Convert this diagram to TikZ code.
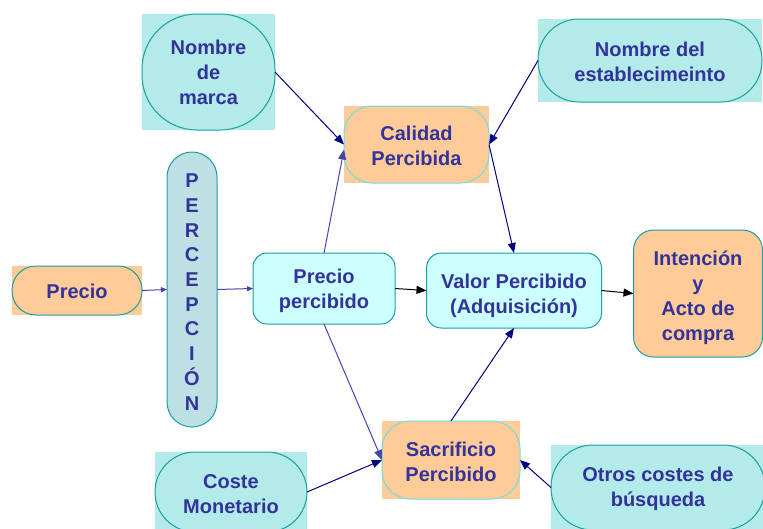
\documentclass[tikz,border=0pt]{standalone}
\usepackage{fontspec}
\setmainfont{Liberation Sans}
\usetikzlibrary{arrows.meta,backgrounds}
\definecolor{txt}{HTML}{333399}
\definecolor{cyanbg}{HTML}{B2EBE9}
\definecolor{orng}{HTML}{FFCC99}
\definecolor{tealb}{HTML}{1A9E9E}
\definecolor{lcyan}{HTML}{6EDCE0}
\definecolor{pale}{HTML}{CCFFFF}
\definecolor{percf}{HTML}{BCE0E3}
\definecolor{navy}{HTML}{000080}
\definecolor{lnavy}{HTML}{4444AA}
\def\tshiftval{0pt}
\newcommand\dn[1]{\raisebox{-\tshiftval}[\height][\depth]{#1}}
\tikzset{
  tsh/.code={\def\tshiftval{#1}},
  box/.style={draw=tealb, line width=1pt, inner sep=0pt, outer sep=0pt, align=center,
    text=txt, font=\fontsize{20}{25}\selectfont\bfseries},
  arr/.style={-{Triangle[length=10pt,width=8pt]}, line width=1pt, navy},
  larr/.style={-{Triangle[length=10pt,width=8pt]}, line width=1pt, lnavy},
  sarr/.style={-{Triangle[length=6pt,width=5pt]}, line width=1pt, lnavy},
  barr/.style={-{Triangle[length=10pt,width=8pt]}, line width=1pt, black},
}
\begin{document}
\begin{tikzpicture}[x=1pt,y=-1pt]
\useasboundingbox (0,0) rectangle (763,528);
\clip (0,0) rectangle (763,528);
% nodes
\node[box, fill=cyanbg, rounded corners=55pt, minimum width=133pt, minimum height=116pt] (marca) at (208.5,72) {Nombre\\de\\marca};
\node[box, tsh=1pt, fill=cyanbg, rounded corners=41pt, minimum width=224pt, minimum height=83pt] (est) at (650,60.5) {\dn{Nombre del}\\\dn{establecimeinto}};
\node[box, tsh=1.5pt, fill=orng, draw=lcyan, rounded corners=28pt, minimum width=145pt, minimum height=77pt] (cal) at (416.5,144.5) {\dn{Calidad}\\\dn{Percibida}};
\node[box, tsh=1pt, fill=orng, rounded corners=24pt, minimum width=130pt, minimum height=49pt] (precio) at (77,290.5) {\dn{Precio}};
\node[box, tsh=2.5pt, fill=percf, rounded corners=25pt, minimum width=50pt, minimum height=275pt,
  font=\fontsize{20}{24.7}\selectfont\bfseries] (perc) at (192,289.5) {\dn{P}\\\dn{E}\\\dn{R}\\\dn{C}\\\dn{E}\\\dn{P}\\\dn{C}\\\dn{I}\\\dn{Ó}\\\dn{N}};
\node[box, tsh=2.5pt, fill=pale, rounded corners=14pt, minimum width=142pt, minimum height=71pt] (pp) at (324,288.5) {\dn{Precio}\\\dn{percibido}};
\node[box, tsh=5pt, fill=pale, rounded corners=15pt, minimum width=175pt, minimum height=75pt] (valor) at (514,290.5) {\dn{Valor Percibido}\\\dn{(Adquisición)}};
\node[box, tsh=4pt, fill=orng, rounded corners=20pt, minimum width=129pt, minimum height=127pt] (int) at (698,293.5) {\dn{Intención}\\\dn{y}\\\dn{Acto de}\\\dn{compra}};
\node[box, tsh=2pt, fill=orng, draw=lcyan, rounded corners=28pt, minimum width=138pt, minimum height=78pt] (sac) at (451,460) {\dn{Sacrificio}\\\dn{Percibido}};
\node[box, tsh=2pt, fill=cyanbg, rounded corners=40pt, minimum width=152pt, minimum height=80pt] (coste) at (231,492) {\dn{Coste}\\\dn{Monetario}};
\node[box, tsh=1.5pt, fill=cyanbg, rounded corners=42pt, minimum width=214pt, minimum height=85pt] (otros) at (658,487.5) {\dn{Otros costes de}\\\dn{búsqueda}};
% square backgrounds
\begin{scope}[on background layer]
\foreach \n/\c in {marca/cyanbg, est/cyanbg, precio/orng, cal/orng, sac/orng, coste/cyanbg, otros/cyanbg}
  \fill[\c] (\n.south west) rectangle (\n.north east);
\end{scope}
% connectors
\draw[arr] (marca.east) -- (cal.west);
\draw[arr] (est.west) -- (cal.east);
\draw[sarr] (precio.east) -- (perc.west);
\draw[sarr] (perc.east) -- (pp.west);
\draw[larr] (pp.north) -- ([yshift=-5pt]cal.west);
\draw[arr] (cal.east) -- (valor.north);
\draw[barr] (pp.east) -- (valor.west);
\draw[barr] (valor.east) -- (int.west);
\draw[larr] (pp.south) -- (sac.west);
\draw[arr] (coste.east) -- (sac.west);
\draw[arr] (otros.west) -- (sac.east);
\draw[arr] (sac.north) -- (valor.south);
\end{tikzpicture}
\end{document}
